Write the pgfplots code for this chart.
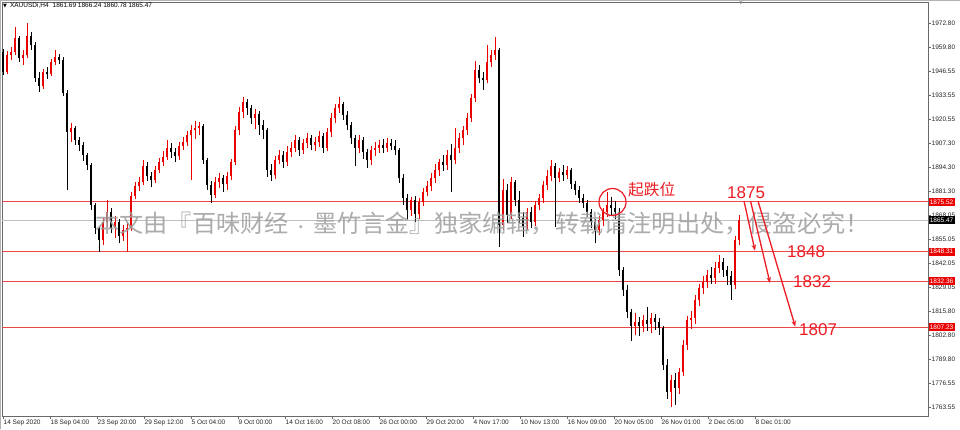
\documentclass[border=0pt]{standalone}
\usepackage{fontspec}
\setmainfont{Liberation Sans}
\newfontfamily\cjk{Noto Sans CJK SC}
\newfontfamily\dejavu{DejaVu Sans}
\usepackage{pgfplots}
\pgfplotsset{compat=1.18}
\usepackage{pgfplotstable}
\usetikzlibrary{arrows.meta}

\definecolor{upc}{RGB}{235,0,0}
\definecolor{dnc}{RGB}{0,0,0}
\definecolor{levelred}{RGB}{235,70,70}
\definecolor{ann}{RGB}{236,28,36}
\definecolor{frm}{RGB}{105,105,105}

% XAUUSD, two H4 bars per row: index, open, high, low, close
\pgfplotstableread{
i o h l c
0 1957.2 1959.0 1944.5 1946.3
1 1946.3 1957.5 1945.0 1955.5
2 1955.5 1960.0 1953.0 1957.2
3 1957.2 1971.0 1955.5 1964.8
4 1964.8 1966.0 1951.5 1953.9
5 1953.9 1958.0 1950.0 1955.5
6 1955.5 1973.0 1954.0 1965.9
7 1965.9 1968.0 1958.5 1961.0
8 1961.0 1962.5 1941.0 1943.0
9 1943.0 1946.0 1935.5 1938.6
10 1938.6 1948.0 1937.0 1946.3
11 1946.3 1949.0 1942.5 1945.2
12 1945.2 1953.5 1944.0 1951.7
13 1951.7 1958.5 1950.0 1954.4
14 1954.4 1956.0 1950.5 1952.8
15 1952.8 1954.5 1933.0 1935.0
16 1935.0 1936.5 1882.0 1913.6
17 1913.6 1918.5 1908.0 1915.8
18 1915.8 1917.0 1906.5 1909.2
19 1909.2 1911.0 1903.0 1906.5
20 1906.5 1908.0 1898.0 1901.0
21 1901.0 1902.0 1893.0 1895.6
22 1895.6 1896.5 1871.0 1873.8
23 1873.8 1875.0 1858.0 1861.3
24 1861.3 1862.5 1848.3 1854.7
25 1854.7 1866.5 1852.0 1864.5
26 1864.5 1876.5 1862.0 1870.0
27 1870.0 1872.0 1858.5 1861.3
28 1861.3 1868.0 1856.0 1864.5
29 1864.5 1866.0 1853.0 1856.9
30 1856.9 1863.0 1854.0 1860.2
31 1860.2 1864.0 1848.3 1861.3
32 1861.3 1881.0 1859.5 1878.7
33 1878.7 1886.5 1877.0 1884.1
34 1884.1 1889.0 1881.5 1886.3
35 1886.3 1898.5 1884.5 1895.0
36 1895.0 1897.0 1887.0 1889.6
37 1889.6 1892.0 1883.5 1887.4
38 1887.4 1895.0 1885.5 1892.9
39 1892.9 1899.5 1891.0 1897.2
40 1897.2 1903.0 1895.0 1900.0
41 1900.0 1909.0 1898.5 1904.9
42 1904.9 1907.5 1899.5 1902.7
43 1902.7 1905.0 1897.0 1900.5
44 1900.5 1908.0 1898.5 1905.9
45 1905.9 1911.0 1903.5 1908.1
46 1908.1 1914.0 1906.0 1911.9
47 1911.9 1917.5 1887.5 1914.7
48 1914.7 1919.5 1910.0 1915.8
49 1915.8 1919.0 1912.0 1916.8
50 1916.8 1918.0 1896.0 1898.3
51 1898.3 1899.5 1882.0 1884.7
52 1884.7 1887.0 1874.9 1879.2
53 1879.2 1889.0 1877.5 1886.3
54 1886.3 1891.0 1883.0 1888.5
55 1888.5 1890.0 1881.0 1885.2
56 1885.2 1892.0 1882.0 1889.6
57 1889.6 1899.0 1887.5 1897.2
58 1897.2 1917.0 1895.5 1914.7
59 1914.7 1927.0 1912.0 1924.5
60 1924.5 1932.8 1921.0 1929.9
61 1929.9 1931.5 1923.0 1926.7
62 1926.7 1928.0 1918.0 1921.2
63 1921.2 1926.0 1915.0 1923.4
64 1923.4 1925.0 1912.0 1917.4
65 1917.4 1920.0 1910.0 1914.7
66 1914.7 1916.0 1889.0 1892.9
67 1892.9 1896.0 1887.0 1890.1
68 1890.1 1900.5 1888.0 1898.3
69 1898.3 1904.0 1896.0 1901.0
70 1901.0 1903.0 1894.0 1897.2
71 1897.2 1906.0 1895.0 1902.7
72 1902.7 1908.0 1900.0 1904.9
73 1904.9 1912.0 1902.5 1909.2
74 1909.2 1911.0 1900.5 1903.8
75 1903.8 1910.0 1901.5 1907.6
76 1907.6 1913.0 1905.0 1910.3
77 1910.3 1912.0 1903.5 1906.5
78 1906.5 1911.0 1903.0 1908.1
79 1908.1 1914.0 1905.5 1911.4
80 1911.4 1913.0 1902.0 1904.9
81 1904.9 1916.0 1903.0 1913.6
82 1913.6 1924.0 1911.0 1921.2
83 1921.2 1929.0 1918.5 1926.7
84 1926.7 1932.5 1924.0 1928.8
85 1928.8 1930.0 1920.0 1922.8
86 1922.8 1925.0 1914.5 1917.4
87 1917.4 1919.0 1907.0 1910.3
88 1910.3 1912.0 1895.0 1904.9
89 1904.9 1912.0 1902.0 1909.2
90 1909.2 1911.0 1899.0 1902.7
91 1902.7 1904.5 1894.0 1898.3
92 1898.3 1906.0 1895.5 1903.8
93 1903.8 1908.0 1900.5 1904.9
94 1904.9 1909.0 1902.0 1906.5
95 1906.5 1909.5 1902.0 1904.9
96 1904.9 1910.5 1902.5 1907.6
97 1907.6 1910.0 1903.5 1905.9
98 1905.9 1909.0 1901.0 1903.8
99 1903.8 1905.0 1886.0 1888.5
100 1888.5 1890.5 1874.0 1877.6
101 1877.6 1880.0 1866.0 1871.1
102 1871.1 1878.0 1868.0 1876.5
103 1876.5 1878.5 1864.5 1868.9
104 1868.9 1877.5 1866.0 1875.4
105 1875.4 1883.0 1873.0 1880.9
106 1880.9 1887.0 1878.5 1884.1
107 1884.1 1891.0 1881.5 1888.5
108 1888.5 1896.0 1886.0 1892.9
109 1892.9 1899.0 1889.5 1897.2
110 1897.2 1901.0 1892.5 1895.6
111 1895.6 1903.5 1893.0 1901.0
112 1901.0 1907.0 1880.9 1898.3
113 1898.3 1916.0 1896.0 1904.9
114 1904.9 1913.0 1902.0 1910.3
115 1910.3 1917.0 1906.5 1914.7
116 1914.7 1924.0 1912.0 1921.2
117 1921.2 1934.0 1919.0 1932.1
118 1932.1 1952.5 1930.0 1947.4
119 1947.4 1950.0 1940.0 1943.0
120 1943.0 1946.0 1936.5 1941.9
121 1941.9 1961.0 1940.0 1951.7
122 1951.7 1958.0 1949.0 1955.5
123 1955.5 1965.3 1953.0 1958.3
124 1958.3 1959.5 1850.9 1862.9
125 1862.9 1888.0 1860.0 1882.0
126 1882.0 1885.0 1864.0 1868.3
127 1868.3 1889.0 1866.0 1886.3
128 1886.3 1887.5 1873.0 1876.5
129 1876.5 1881.5 1864.0 1866.7
130 1866.7 1870.0 1856.4 1862.3
131 1862.3 1872.0 1860.0 1870.0
132 1870.0 1872.5 1861.0 1864.5
133 1864.5 1876.0 1862.5 1873.8
134 1873.8 1880.0 1871.0 1877.6
135 1877.6 1887.0 1875.0 1884.7
136 1884.7 1893.0 1882.0 1889.6
137 1889.6 1898.3 1887.0 1895.0
138 1895.0 1896.5 1862.0 1888.5
139 1888.5 1894.0 1886.5 1891.8
140 1891.8 1895.5 1887.0 1890.1
141 1890.1 1895.0 1888.0 1892.9
142 1892.9 1894.0 1882.5 1885.2
143 1885.2 1887.0 1879.0 1882.0
144 1882.0 1884.0 1875.0 1877.6
145 1877.6 1880.0 1872.0 1874.9
146 1874.9 1876.5 1867.0 1870.0
147 1870.0 1871.5 1861.0 1864.5
148 1864.5 1866.0 1853.0 1860.2
149 1860.2 1868.0 1857.5 1865.6
150 1865.6 1872.0 1862.5 1870.0
151 1870.0 1880.9 1867.0 1873.8
152 1873.8 1878.0 1868.5 1872.2
153 1872.2 1876.0 1866.0 1870.0
154 1870.0 1872.0 1835.0 1838.4
155 1838.4 1840.0 1824.0 1827.5
156 1827.5 1830.0 1812.0 1815.5
157 1815.5 1817.0 1799.8 1807.9
158 1807.9 1815.0 1803.0 1810.0
159 1810.0 1812.5 1802.5 1807.9
160 1807.9 1814.0 1804.5 1811.1
161 1811.1 1818.2 1805.0 1809.0
162 1809.0 1815.0 1804.0 1812.2
163 1812.2 1814.5 1805.5 1810.0
164 1810.0 1812.0 1803.0 1806.8
165 1806.8 1808.0 1784.0 1786.6
166 1786.6 1790.0 1768.0 1771.9
167 1771.9 1781.0 1763.9 1778.4
168 1778.4 1782.0 1765.0 1774.1
169 1774.1 1785.0 1771.0 1782.8
170 1782.8 1800.0 1780.5 1797.5
171 1797.5 1813.5 1795.0 1811.1
172 1811.1 1816.0 1806.0 1812.2
173 1812.2 1825.0 1809.0 1822.0
174 1822.0 1831.0 1819.0 1828.6
175 1828.6 1835.0 1825.5 1831.8
176 1831.8 1838.5 1828.5 1835.7
177 1835.7 1840.0 1830.5 1834.0
178 1834.0 1842.5 1831.0 1839.5
179 1839.5 1846.5 1836.5 1842.7
180 1842.7 1845.0 1834.5 1838.4
181 1838.4 1840.5 1830.0 1835.1
182 1835.1 1838.0 1822.0 1830.2
183 1830.2 1857.0 1828.0 1854.7
184 1854.7 1868.5 1852.0 1865.5
}\candles

\begin{document}
\begin{tikzpicture}
\path[use as bounding box] (0,0) rectangle (960pt,429pt);
\fill[white] (0,0) rectangle (960pt,429pt);
\draw[gray!60, line width=0.8pt] (0.4pt,0) -- (0.4pt,428.6pt) -- (960pt,428.6pt);

\begin{axis}[
  at={(2pt,13pt)}, anchor=south west,
  scale only axis, width=926pt, height=414pt,
  xmin=-0.25, xmax=231.25, ymin=1758.8, ymax=1984.4,
  clip=false,
  axis line style={draw=frm, line width=0.7pt},
  xtick pos=left, ytick pos=right, yticklabel pos=right,
  tick align=outside, major tick length=2.5pt,
  tick style={draw=frm, line width=0.5pt},
  ticklabel style={font=\fontsize{6.5}{7}\selectfont, text=black!85},
  xtick={0,11.75,23.5,35.25,47,58.75,70.5,82.25,94,105.75,117.5,129.25,141,152.75,164.5,176.25,188},
  xticklabels={14 Sep 2020,18 Sep 04:00,23 Sep 20:00,29 Sep 12:00,5 Oct 04:00,9 Oct 00:00,14 Oct 16:00,20 Oct 08:00,26 Oct 00:00,29 Oct 20:00,4 Nov 17:00,10 Nov 13:00,16 Nov 09:00,20 Nov 05:00,26 Nov 01:00,2 Dec 05:00,8 Dec 01:00},
  xticklabel style={anchor=north west, inner xsep=0.5pt, inner ysep=1pt},
  ytick={1972.80,1959.80,1946.55,1933.55,1920.55,1907.30,1894.30,1881.30,1868.05,1855.05,1842.05,1829.05,1815.80,1802.80,1789.80,1776.55,1763.55},
  yticklabels={1972.80,1959.80,1946.55,1933.55,1920.55,1907.30,1894.30,1881.30,1868.05,1855.05,1842.05,1829.05,1815.80,1802.80,1789.80,1776.55,1763.55},
  yticklabel style={anchor=west, inner xsep=1pt},
  candle/.style={draw=none, mark=none, forget plot},
  hline/.style={draw=levelred, line width=1pt, mark=none, forget plot},
]
% level lines
\addplot[hline] coordinates {(-0.25,1875.52) (231.25,1875.52)};
\addplot[hline] coordinates {(-0.25,1848.31) (231.25,1848.31)};
\addplot[hline] coordinates {(-0.25,1832.36) (231.25,1832.36)};
\addplot[hline] coordinates {(-0.25,1807.23) (231.25,1807.23)};
\addplot[draw=black!25, line width=0.6pt, mark=none, forget plot] coordinates {(-0.25,1865.47) (231.25,1865.47)};

% wicks, rising bars
\addplot[candle,
  restrict expr to domain={\thisrow{c}-\thisrow{o}}{0:1000},
  error bars/.cd, y dir=plus, y explicit, error mark=none,
  error bar style={line width=0.7pt, draw=upc}]
  table[x=i, y=l, y error plus expr=\thisrow{h}-\thisrow{l}] {\candles};
% bodies, rising bars
\addplot[candle,
  restrict expr to domain={\thisrow{c}-\thisrow{o}}{0:1000},
  error bars/.cd, y dir=plus, y explicit, error mark=none,
  error bar style={line width=2.2pt, draw=upc}]
  table[x=i, y=o, y error plus expr={max(\thisrow{c}-\thisrow{o},0.4)}] {\candles};
% wicks, falling bars
\addplot[candle,
  restrict expr to domain={\thisrow{c}-\thisrow{o}}{-1000:-0.001},
  error bars/.cd, y dir=plus, y explicit, error mark=none,
  error bar style={line width=0.7pt, draw=dnc}]
  table[x=i, y=l, y error plus expr=\thisrow{h}-\thisrow{l}] {\candles};
% bodies, falling bars
\addplot[candle,
  restrict expr to domain={\thisrow{c}-\thisrow{o}}{-1000:-0.001},
  error bars/.cd, y dir=plus, y explicit, error mark=none,
  error bar style={line width=2.2pt, draw=dnc}]
  table[x=i, y=c, y error plus expr=\thisrow{o}-\thisrow{c}] {\candles};

\coordinate (t1) at (axis cs:231.25,1875.52);
\coordinate (t2) at (axis cs:231.25,1865.47);
\coordinate (t3) at (axis cs:231.25,1848.31);
\coordinate (t4) at (axis cs:231.25,1832.36);
\coordinate (t5) at (axis cs:231.25,1807.23);
\end{axis}

% price tags on the scale
\tikzset{tag/.style={anchor=west, inner xsep=1.2pt, inner ysep=0pt, minimum height=8pt,
  text=white, font=\fontsize{6.5}{7}\selectfont}}
\node[tag, fill=upc] at ([xshift=0.4pt]t1) {1875.52};
\node[tag, fill=black] at ([xshift=0.4pt]t2) {1865.47};
\node[tag, fill=upc] at ([xshift=0.4pt]t3) {1848.31};
\node[tag, fill=upc] at ([xshift=0.4pt]t4) {1832.36};
\node[tag, fill=upc] at ([xshift=0.4pt]t5) {1807.23};

% header
\node[anchor=west, inner sep=0pt, font=\fontsize{6.5}{7}\selectfont] at (3pt,423pt)
  {{\dejavu\fontsize{5}{6}\selectfont ▼}\hspace{3pt}XAUUSDi,H4\hspace{4pt}1861.69 1866.24 1860.78 1865.47};
\node[inner sep=0pt, text=gray, font=\dejavu\fontsize{4}{5}\selectfont] at (741pt,426pt) {▼};

% watermark
\node[anchor=base west, inner sep=0pt, text=black!38, opacity=0.85,
  font=\cjk\fontsize{24.2}{25}\selectfont] at (95pt,196.3pt)
  {本文由『百味财经\makebox[24.2pt]{\fontsize{14}{14}\selectfont ·}墨竹言金』独家编辑，转载请注明出处，侵盗必究！};

% annotations
\draw[ann, line width=1.2pt] (612.5pt,227pt) circle[radius=13.5pt];
\node[anchor=base west, inner sep=0pt, text=ann, font=\cjk\fontsize{15.7}{16}\selectfont] at (628pt,233.5pt) {起跌位};
\node[anchor=base west, inner sep=0pt, text=ann, font=\fontsize{17}{17}\selectfont] at (727pt,231pt) {1875};
\node[anchor=base west, inner sep=0pt, text=ann, font=\fontsize{17}{17}\selectfont] at (787pt,171.5pt) {1848};
\node[anchor=base west, inner sep=0pt, text=ann, font=\fontsize{17}{17}\selectfont] at (793pt,142pt) {1832};
\node[anchor=base west, inner sep=0pt, text=ann, font=\fontsize{17}{17}\selectfont] at (799pt,94pt) {1807};
\draw[ann, line width=1.3pt, -{Stealth[length=6pt,width=4.5pt]}] (744pt,228pt) -- (755pt,178.3pt);
\draw[ann, line width=1.3pt, -{Stealth[length=6pt,width=4.5pt]}] (750.5pt,228pt) -- (770pt,146pt);
\draw[ann, line width=1.3pt, -{Stealth[length=6pt,width=4.5pt]}] (758pt,228pt) -- (795.3pt,102.3pt);
\end{tikzpicture}
\end{document}
